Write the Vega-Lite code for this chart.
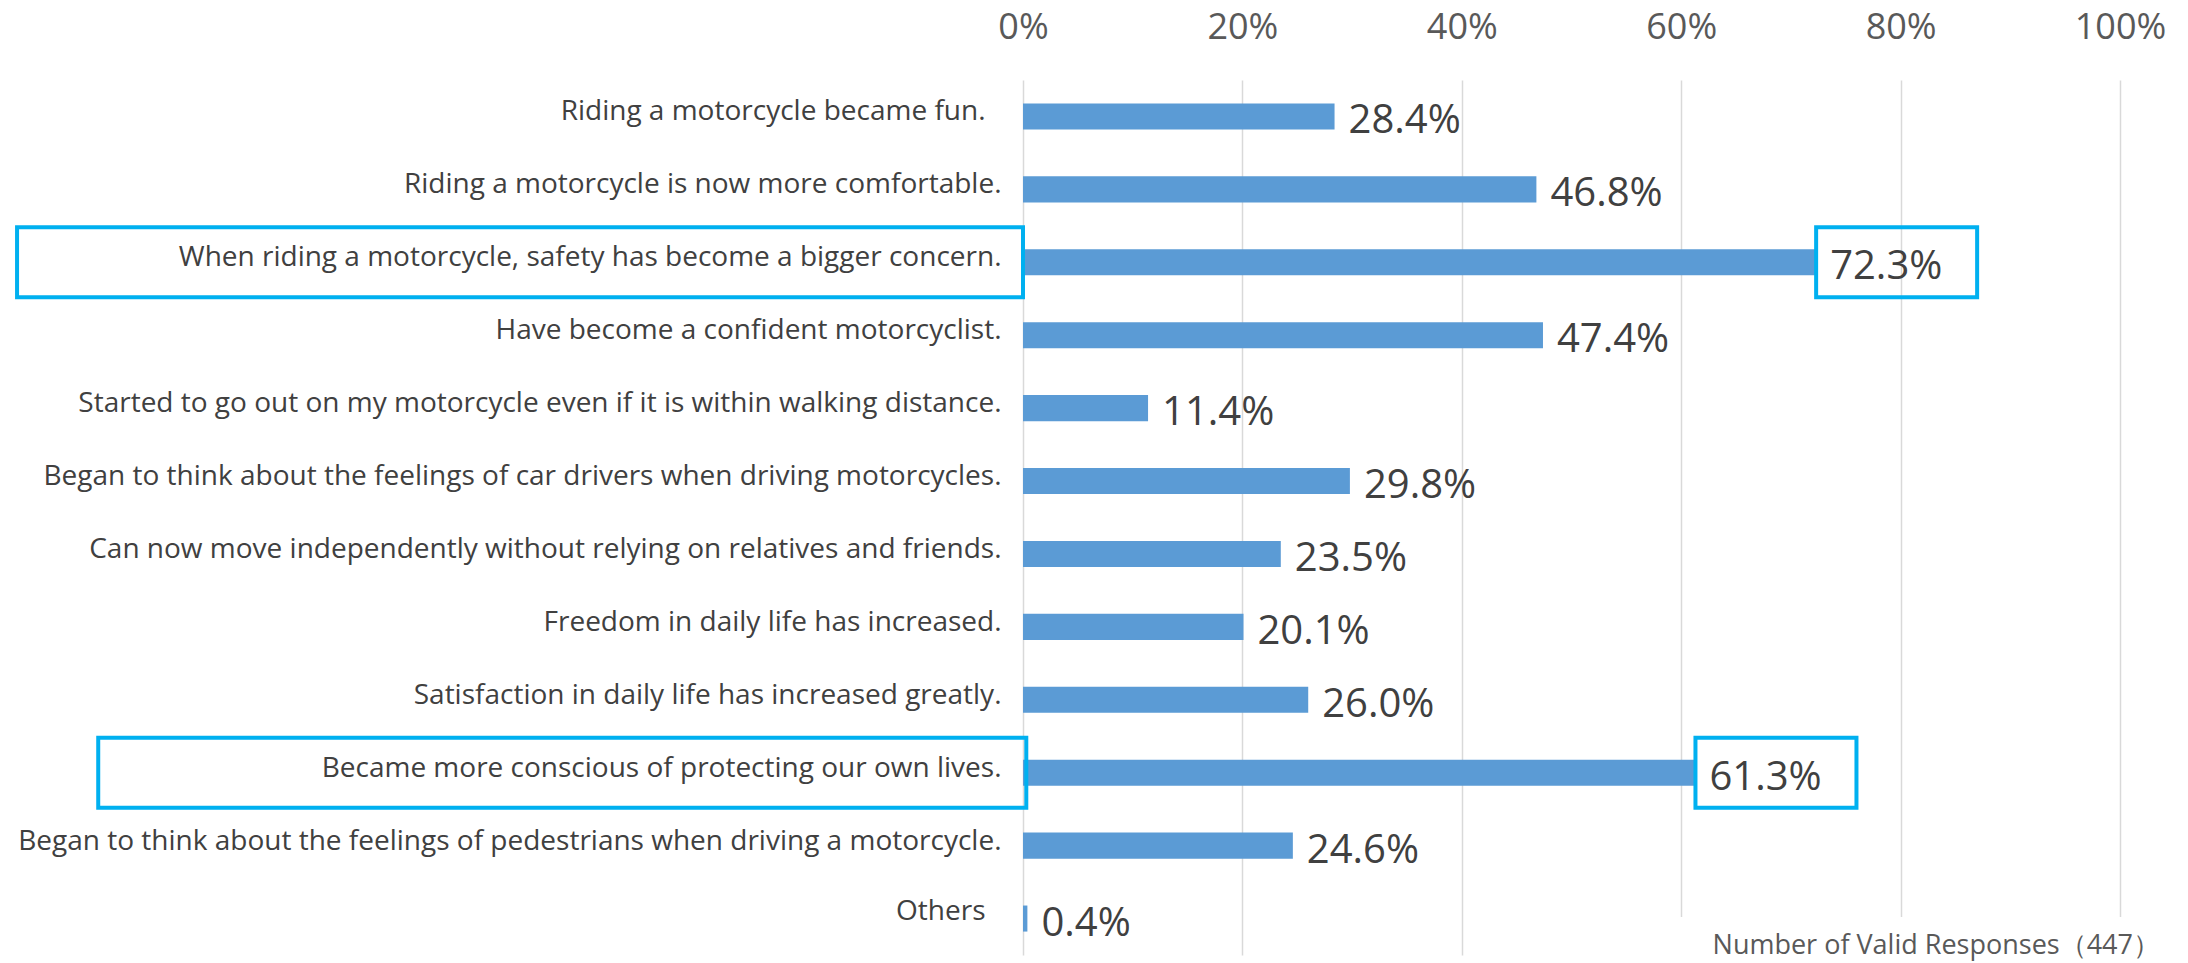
{
  "$schema": "https://vega.github.io/schema/vega-lite/v6.json",
  "autosize": "none",
  "width": 1097,
  "height": 875,
  "padding": {"left": 1023, "top": 80, "right": 68, "bottom": 8},
  "background": "white",
  "config": {"font": "Open Sans", "view": {"stroke": null}},
  "data": {"values": [
    {"item": "Riding a motorcycle became fun.", "value": 0.284, "highlight": false},
    {"item": "Riding a motorcycle is now more comfortable.", "value": 0.468, "highlight": false},
    {"item": "When riding a motorcycle, safety has become a bigger concern.", "value": 0.723, "highlight": true},
    {"item": "Have become a confident motorcyclist.", "value": 0.474, "highlight": false},
    {"item": "Started to go out on my motorcycle even if it is within walking distance.", "value": 0.114, "highlight": false},
    {"item": "Began to think about the feelings of car drivers when driving motorcycles.", "value": 0.298, "highlight": false},
    {"item": "Can now move independently without relying on relatives and friends.", "value": 0.235, "highlight": false},
    {"item": "Freedom in daily life has increased.", "value": 0.201, "highlight": false},
    {"item": "Satisfaction in daily life has increased greatly.", "value": 0.260, "highlight": false},
    {"item": "Became more conscious of protecting our own lives.", "value": 0.613, "highlight": true},
    {"item": "Began to think about the feelings of pedestrians when driving a motorcycle.", "value": 0.246, "highlight": false},
    {"item": "Others", "value": 0.004, "highlight": false}
  ]},
  "encoding": {
    "y": {
      "field": "item", "type": "nominal", "sort": null,
      "scale": {"paddingInner": 0, "paddingOuter": 0},
      "axis": {
        "orient": "left", "title": null, "ticks": false, "tickSize": 0, "domain": false, "grid": false,
        "labelFontSize": 28, "labelColor": "#404040", "labelLimit": 1100,
        "labelPadding": {"condition": {"test": "datum.value === 'Others' || datum.value === 'Riding a motorcycle became fun.'", "value": 38}, "value": 22},
        "labelOffset": {"condition": {"test": "datum.value === 'Others'", "value": -7}, "value": -4},
        "labelFont": "Open Sans"
      }
    }
  },
  "layer": [
    {
      "mark": {"type": "bar", "color": "#5B9BD5", "height": {"band": 0.357}},
      "encoding": {
        "x": {
          "field": "value", "type": "quantitative",
          "scale": {"domain": [0, 1], "nice": false, "zero": true},
          "axis": {
            "orient": "top", "title": null, "format": ".0%", "values": [0, 0.2, 0.4, 0.6, 0.8, 1],
            "ticks": false, "tickSize": 0, "domain": false, "grid": true, "gridColor": "#D9D9D9", "gridWidth": 1.5,
            "labelFontSize": 36, "labelColor": "#595959", "labelBaseline": "alphabetic", "labelPadding": 42,
            "labelFlush": false, "labelOverlap": false, "labelFont": "Open Sans"
          }
        }
      }
    },
    {
      "mark": {"type": "text", "align": "left", "baseline": "middle", "dx": 14, "dy": 5, "fontSize": 40, "color": "#404040"},
      "encoding": {
        "x": {"field": "value", "type": "quantitative"},
        "text": {"field": "value", "type": "quantitative", "format": ".1%"}
      }
    },
    {
      "transform": [{"filter": "datum.highlight"}],
      "mark": {"type": "bar", "filled": false, "color": "#00B0F0", "strokeWidth": 4, "height": {"band": 0.96}, "x2Offset": 161},
      "encoding": {
        "x": {"field": "value", "type": "quantitative"},
        "x2": {"field": "value"}
      }
    },
    {
      "transform": [{"filter": "datum.item === 'When riding a motorcycle, safety has become a bigger concern.'"}],
      "mark": {"type": "bar", "filled": false, "color": "#00B0F0", "strokeWidth": 4, "height": {"band": 0.96}},
      "encoding": {
        "x": {"datum": -0.917, "type": "quantitative"},
        "x2": {"datum": 0}
      }
    },
    {
      "transform": [{"filter": "datum.item === 'Became more conscious of protecting our own lives.'"}],
      "mark": {"type": "bar", "filled": false, "color": "#00B0F0", "strokeWidth": 4, "height": {"band": 0.96}},
      "encoding": {
        "x": {"datum": -0.843, "type": "quantitative"},
        "x2": {"datum": 0.003}
      }
    },
    {
      "data": {"values": [{}]},
      "mark": {"type": "bar", "color": "white", "height": {"band": 0.63}, "yOffset": 21.5},
      "encoding": {
        "x": {"datum": 0.53, "type": "quantitative"},
        "x2": {"datum": 1.05},
        "y": {"datum": "Others", "type": "nominal"}
      }
    },
    {
      "data": {"values": [{}]},
      "mark": {"type": "text", "align": "right", "baseline": "middle", "dx": 40, "dy": 27, "fontSize": 27, "color": "#595959"},
      "encoding": {
        "x": {"datum": 1, "type": "quantitative"},
        "y": {"datum": "Others", "type": "nominal"},
        "text": {"value": "Number of Valid Responses（447）"}
      }
    }
  ]
}
